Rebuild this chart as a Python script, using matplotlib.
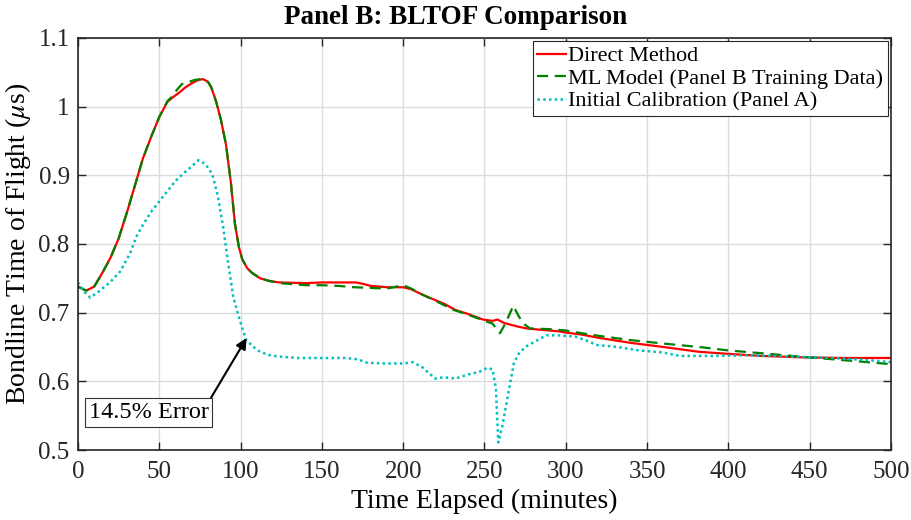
import matplotlib
matplotlib.use("Agg")
import matplotlib.pyplot as plt
import numpy as np

plt.rcParams["font.family"] = ["Liberation Serif", "DejaVu Serif"]
plt.rcParams["mathtext.fontset"] = "stix"

# Direct method BLTOF (us) vs. elapsed time (min)
t_direct = [0, 5, 10, 15, 20, 25, 30, 35, 40, 45, 50, 55, 58, 62, 66, 70, 74,
            77, 80, 82, 85, 88, 91, 94, 96.5, 99, 101, 104, 107, 112, 118,
            124, 140, 150, 160, 171, 175, 180, 190, 200, 205, 212, 220, 226,
            232, 240, 249, 255, 258, 262, 270, 276, 285, 295, 300, 310, 321,
            340, 360, 382, 400, 420, 444, 470, 500]
v_direct = [0.738, 0.732, 0.738, 0.758, 0.780, 0.808, 0.845, 0.885, 0.925,
            0.956, 0.985, 1.007, 1.013, 1.020, 1.028, 1.034, 1.039, 1.040,
            1.036, 1.028, 1.007, 0.980, 0.945, 0.890, 0.830, 0.795, 0.778,
            0.765, 0.758, 0.750, 0.746, 0.744, 0.743, 0.744, 0.744, 0.744,
            0.742, 0.739, 0.737, 0.737, 0.734, 0.726, 0.718, 0.712, 0.704,
            0.698, 0.690, 0.688, 0.690, 0.685, 0.680, 0.677, 0.675, 0.673,
            0.671, 0.668, 0.663, 0.656, 0.650, 0.643, 0.640, 0.637, 0.635,
            0.634, 0.634]

# ML model trained on Panel B data
t_ml = [0, 5, 10, 15, 20, 25, 30, 35, 40, 45, 50, 55, 58, 61, 64, 68, 72,
        76, 80, 82, 85, 88, 91, 94, 96.5, 99, 101, 104, 107, 112, 118, 124,
        140, 150, 160, 170, 180, 190, 200, 205, 212, 220, 231, 240, 249, 255,
        259.5, 263, 267.7, 271, 274, 278, 290, 300, 310, 321, 340, 360, 382,
        400, 420, 444, 470, 485, 500]
v_ml = [0.738, 0.732, 0.738, 0.758, 0.780, 0.808, 0.845, 0.885, 0.925, 0.956,
        0.985, 1.008, 1.015, 1.025, 1.033, 1.036, 1.039, 1.040, 1.036, 1.028,
        1.007, 0.980, 0.945, 0.890, 0.830, 0.795, 0.778, 0.765, 0.758, 0.750,
        0.746, 0.743, 0.740, 0.740, 0.739, 0.737, 0.736, 0.735, 0.740, 0.735,
        0.726, 0.717, 0.704, 0.697, 0.689, 0.684, 0.670, 0.685, 0.710, 0.695,
        0.684, 0.677, 0.676, 0.674, 0.670, 0.666, 0.660, 0.655, 0.650, 0.645,
        0.641, 0.636, 0.631, 0.628, 0.625]

# Initial calibration from Panel A
t_cal = [0, 4, 7.5, 13, 20, 26, 32, 36, 40, 45, 50, 55, 60, 65, 70, 74, 78,
         81, 83, 86, 89.4, 92.5, 95.5, 99.5, 103.5, 108, 112, 118, 124, 135,
         150, 165, 172, 178, 190, 200, 206, 212, 219.6, 225, 232, 240, 247,
         252, 255, 257, 258.5, 261, 263.5, 266, 268, 271, 275, 281, 288, 295,
         300.5, 306, 312, 319, 332, 345, 360, 370, 390, 413, 440, 464, 485,
         500]
v_cal = [0.744, 0.730, 0.722, 0.731, 0.745, 0.760, 0.786, 0.811, 0.828,
         0.847, 0.862, 0.877, 0.892, 0.903, 0.913, 0.922, 0.917, 0.908,
         0.898, 0.870, 0.823, 0.770, 0.723, 0.689, 0.660, 0.650, 0.643,
         0.638, 0.636, 0.634, 0.634, 0.634, 0.632, 0.627, 0.626, 0.626,
         0.628, 0.620, 0.604, 0.606, 0.604, 0.610, 0.614, 0.620, 0.617,
         0.590, 0.511, 0.535, 0.568, 0.600, 0.626, 0.640, 0.650, 0.658,
         0.667, 0.667, 0.666, 0.665, 0.660, 0.653, 0.650, 0.645, 0.642,
         0.637, 0.637, 0.638, 0.636, 0.634, 0.631, 0.628]

error_text = "14.5% Error"
error_point = (103.7, 0.663)

fig = plt.figure(figsize=(9.12, 5.2), dpi=100)
ax = fig.add_axes([0.0855, 0.1346, 0.8915, 0.7924])

ax.plot(t_direct, v_direct, color="red", lw=1.6, label="Direct Method")
ax.plot(t_ml, v_ml, color="#008000", lw=1.6, ls=(0, (5, 3)),
        label="ML Model (Panel B Training Data)")
ax.plot(t_cal, v_cal, color="#00bfbf", lw=1.8, ls=(0, (1, 1.3)),
        label="Initial Calibration (Panel A)")

ax.annotate(error_text, xy=error_point, xytext=(43.4, 0.5546),
            fontsize=17.5, ha="center", va="center",
            bbox=dict(boxstyle="square,pad=0.15", fc="white", ec="#333333", lw=0.8),
            arrowprops=dict(arrowstyle="-|>", color="black", lw=1.5,
                            mutation_scale=16, relpos=(1, 1), shrinkA=0, shrinkB=0))

ax.set_xlim(0, 500)
ax.set_ylim(0.5, 1.1)
ax.set_xticks(np.arange(0, 501, 50))
ax.set_yticks(np.arange(0.5, 1.11, 0.1))
ax.set_yticklabels(["0.5", "0.6", "0.7", "0.8", "0.9", "1", "1.1"])
ax.grid(True, color="#dcdcdc", lw=1.0)
ax.set_axisbelow(True)
ax.tick_params(direction="in", length=6, width=1.0, top=True, right=True,
               labelsize=18, colors="#262626")
ax.tick_params(axis="x", pad=8)
ax.tick_params(axis="y", pad=6)
for s in ax.spines.values():
    s.set_linewidth(1.2)
    s.set_color("#262626")

ax.set_xlabel("Time Elapsed (minutes)", fontsize=20, labelpad=4)
ax.set_ylabel(r"Bondline Time of Flight ($\mu$s)", fontsize=20, labelpad=4)
fig.suptitle("Panel B: BLTOF Comparison", x=0.5, y=0.99, fontsize=19.5,
             fontweight="bold", va="top")

leg = ax.legend(loc="upper right", fontsize=16, handlelength=1.3, handletextpad=0.1,
                borderpad=0.2, labelspacing=0.1, borderaxespad=0.15, fancybox=False,
                framealpha=1)
leg.get_frame().set_edgecolor("#262626")
leg.get_frame().set_linewidth(0.8)

fig.savefig("out.png", dpi=100)
